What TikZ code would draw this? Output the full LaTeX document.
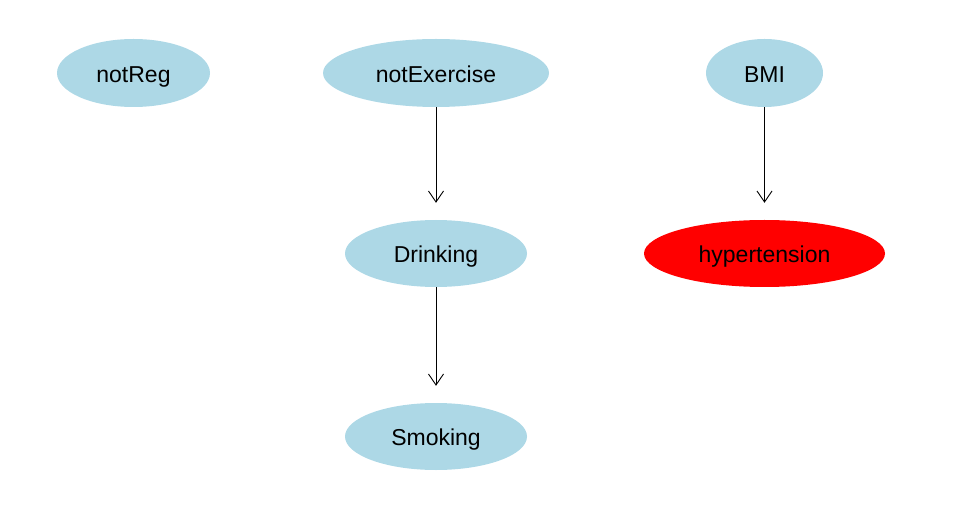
\documentclass[tikz,border=0pt]{standalone}
\usepackage{fontspec}
\setmainfont{Liberation Sans}
\usetikzlibrary{shapes.geometric,arrows.meta}
\definecolor{nodeblue}{HTML}{ADD8E6}
\definecolor{nodered}{HTML}{FF0000}
\tikzset{
  vnode/.style={ellipse, fill=nodeblue, draw=none, inner sep=0pt,
    font=\fontsize{23pt}{25pt}\selectfont, text height=18.6pt, text depth=0pt},
  rednode/.style={vnode, fill=nodered},
  arr/.style={-{Straight Barb[length=11pt,width=15pt]}, line width=0.9pt, shorten >=17pt}
}
\begin{document}
\begin{tikzpicture}[x=1pt,y=-1pt]
\useasboundingbox (0,0) rectangle (960,510);
\node[vnode, minimum width=153pt, minimum height=68pt] (notReg) at (133.5,73) {notReg};
\node[vnode, minimum width=226pt, minimum height=68pt] (notExercise) at (436,73) {notExercise};
\node[vnode, minimum width=117pt, minimum height=68pt] (BMI) at (764.5,73) {BMI};
\node[vnode, minimum width=182pt, minimum height=67pt] (Drinking) at (436,253.5) {Drinking};
\node[rednode, minimum width=241pt, minimum height=67pt] (hypertension) at (764.5,253.5) {hypertension};
\node[vnode, minimum width=182pt, minimum height=67pt] (Smoking) at (436,436.5) {Smoking};
\draw[arr] (notExercise) -- (Drinking);
\draw[arr] (BMI) -- (hypertension);
\draw[arr] (Drinking) -- (Smoking);
\end{tikzpicture}
\end{document}
